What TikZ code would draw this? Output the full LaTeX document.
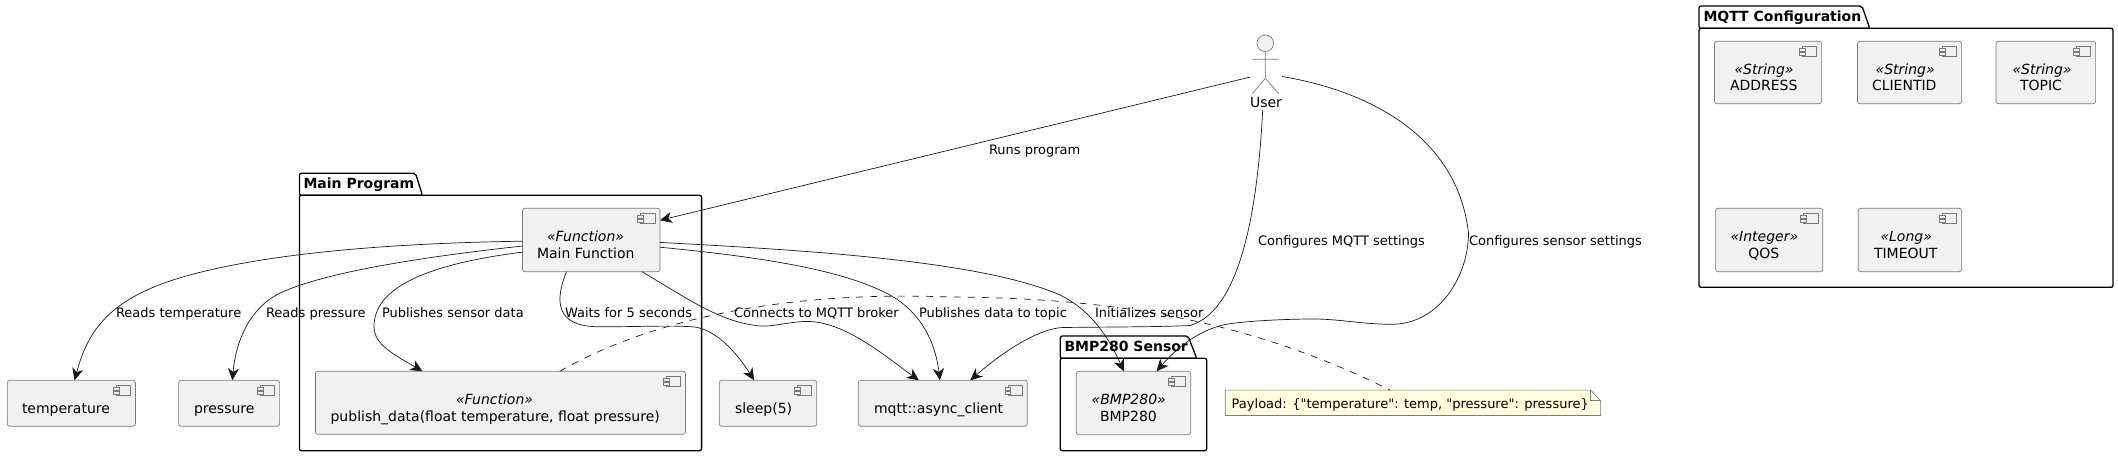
\documentclass[tikz,border=0pt]{standalone}
\usepackage{fontspec}
\setmainfont{DejaVu Sans}
\newfontfamily\plainfont{DejaVu Sans}
\usetikzlibrary{arrows.meta}
\definecolor{compfill}{HTML}{F1F1F1}
\definecolor{compline}{HTML}{7A7A7A}
\definecolor{notefill}{HTML}{FEFFDD}
\definecolor{wire}{HTML}{181818}
\newcommand{\CompBox}[5]{%
  \pgfmathsetmacro{\cbx}{(#2+#4)/2}\pgfmathsetmacro{\cby}{(#3+#5)/2}%
  \pgfmathsetmacro{\cbw}{#4-#2}\pgfmathsetmacro{\cbh}{#5-#3}%
  \node[compbox,minimum width=\cbw pt,minimum height=\cbh pt] (#1) at (\cbx,\cby) {};
  \begin{scope}[shift={(#1.north east)}]
    \draw[iconline,fill=compfill] (-19.4,5.4) rectangle ++(14.4,10);
    \draw[iconline,fill=compfill] (-22.4,7.4) rectangle ++(5.8,2.6);
    \draw[iconline,fill=compfill] (-22.4,11.2) rectangle ++(5.8,2.6);
  \end{scope}%
}
\newcommand{\Pkg}[8]{% name x1 ytop tabtop-right tab-bottom-right ybody x2 y2
  \draw[pkgline] (#2,#6) -- (#2,#3) -- (#4,#3) -- (#5,#6) -- cycle;
  \draw[pkgline] (#2,#6) -- (#7,#6) -- (#7,#8) -- (#2,#8) -- cycle;
}
\tikzset{
  x=1pt,y=-1pt,
  compbox/.style={draw=compline,fill=compfill,rounded corners=2.5pt,line width=0.7pt,inner sep=0pt,outer sep=0pt,shape=rectangle},
  iconline/.style={draw=compline,line width=0.6pt,rounded corners=0pt,x=1pt,y=-1pt},
  pkgline/.style={draw=black,line width=1.3pt,rounded corners=2pt,line join=round},
  txt/.style={anchor=base west,inner sep=0pt,outer sep=0pt,font=\fontsize{14}{16}\selectfont,text=black},
  lbl/.style={txt,font=\fontsize{13}{15}\selectfont},
  ster/.style={txt,font=\fontsize{14}{16}\selectfont\itshape},
  ttl/.style={txt,font=\fontsize{14}{16}\selectfont\bfseries},
  conn/.style={draw=wire,line width=0.7pt,-{Stealth[inset=3.6pt,length=12pt,width=11pt]}},
  dashconn/.style={draw=wire,line width=0.7pt,dash pattern=on 7pt off 7pt},
  actorline/.style={draw=compline,line width=0.7pt},
}
\begin{document}
\begin{tikzpicture}
\useasboundingbox (0,0) rectangle (2118,456);
% packages
\Pkg{pm}{299.4}{173.3}{415.5}{422.4}{195.3}{701.6}{450.7}
\Pkg{pb}{1060.3}{336}{1188}{1196.7}{358.3}{1206.7}{450.7}
\Pkg{pq}{1699}{6}{1862}{1869.7}{28.3}{2113}{287.3}
\node[ttl] (tpm) at (303.5,188) {Main Program};
\node[ttl] (tpb) at (1064.5,351) {BMP280 Sensor};
\node[ttl] (tpq) at (1703.5,21) {MQTT Configuration};
% components
\CompBox{main}{522.5}{208.3}{660}{271.7}
\CompBox{publish}{315.4}{371.3}{685.5}{434.3}
\CompBox{temp}{7.3}{380.3}{135.4}{426.3}
\CompBox{press}{178.6}{380.3}{279.6}{426.3}
\CompBox{sleep}{719.3}{380.3}{816.7}{426.3}
\CompBox{mqtt}{858.3}{380.3}{1027.3}{426.3}
\CompBox{bmp}{1076.3}{371.3}{1190.7}{434.7}
\CompBox{addr}{1714.4}{41.3}{1821.6}{103.7}
\CompBox{client}{1857.5}{41.3}{1961.6}{103.7}
\CompBox{topic}{1996}{41.3}{2095.6}{103.7}
\CompBox{qos}{1715.6}{208.3}{1822.8}{271.7}
\CompBox{tout}{1858.3}{208.3}{1961.6}{271.7}
% component texts
\node[ster] (s1) at (547,241) {«Function»};
\node[txt] (n1) at (537,258) {Main Function};
\node[ster] (s2) at (456,404.3) {«Function»};
\node[txt] (n2) at (330.6,421) {publish\_data(float temperature, float pressure)};
\node[txt] (n3) at (22,413) {temperature};
\node[txt] (n4) at (194,413) {pressure};
\node[txt] (n5) at (735,413) {sleep(5)};
\node[txt] (n6) at (874,413) {mqtt::async\_client};
\node[ster] (s7) at (1091.7,404) {«BMP280»};
\node[txt] (n7) at (1100,421) {BMP280};
\node[ster] (s8) at (1734.5,74) {«String»};
\node[txt] (n8) at (1730,90) {ADDRESS};
\node[ster] (s9) at (1875.6,74) {«String»};
\node[txt] (n9) at (1872,90) {CLIENTID};
\node[ster] (s10) at (2012.5,74) {«String»};
\node[txt] (n10) at (2020,90) {TOPIC};
\node[ster] (s11) at (1730.5,241) {«Integer»};
\node[txt] (n11) at (1748.3,258) {QOS};
\node[ster] (s12) at (1880.5,241) {«Long»};
\node[txt] (n12) at (1874,258) {TIMEOUT};
% actor
\node[inner sep=0pt,outer sep=0pt,minimum width=32pt,minimum height=75pt] (user) at (1266,72.5) {};
\draw[actorline,fill=compfill] (1265.3,43.3) circle[radius=8.3];
\draw[actorline] (1265.3,51.7) -- (1265.3,78.3) (1252.3,59.3) -- (1278.7,59.3) (1252.3,93.7) -- (1265.3,78.3) -- (1278.7,93.7);
\node[txt] (userlbl) at (1250,107) {User};
% note
\node[inner sep=0pt,outer sep=0pt,minimum width=375.4pt,minimum height=25.4pt] (note) at (1413,402.8) {};
\draw[draw=compline,fill=notefill,line width=0.7pt] (note.south west) -- (note.north west) -- ([xshift=-10pt]note.north east) -- ([yshift=-10.7pt]note.north east) -- (note.south east) -- cycle;
\draw[draw=compline,line width=0.7pt] ([xshift=-10pt]note.north east) -- ([xshift=-10pt,yshift=-10.7pt]note.north east) -- ([yshift=-10.7pt]note.north east);
\node[txt,font=\fontsize{13}{15}\plainfont] (notetxt) at (1231.7,408) {Payload: \{"temperature": temp, "pressure": pressure\}};
% connectors
\draw[conn] (user.196.7) -- (main.16.2);
\draw[conn] (main.181.4) .. controls (400,243) and (270,252) .. (183.7,276.7) .. controls (110,298) and (88,330) .. (temp.82.5);
\draw[conn] (main.185.2) .. controls (440,255) and (330,270) .. (280,293) .. controls (250,308) and (236,340) .. (press.82.8);
\draw[conn] (main.190.5) .. controls (420,265) and (374,290) .. (374,326.7) .. controls (374,345) and (395,355) .. (publish.158.6);
\draw[conn] (main.232.6) .. controls (555,300) and (555,326) .. (597,326.7) .. controls (640,327) and (670,325) .. (695,327) .. controls (715,330) and (735,350) .. (sleep.121.3);
\draw[conn] (main.328.6) .. controls (690,300) and (720,322) .. (760,326) .. controls (775,327) and (795,320) .. (813,321.7) .. controls (850,325) and (890,360) .. (mqtt.136.8);
\draw[conn] (main.-6.06) .. controls (750,256) and (840,268) .. (890,295) .. controls (920,312) and (935,340) .. (mqtt.97);
\draw[conn] (main.-2.25) .. controls (800,250) and (980,260) .. (1060,295) .. controls (1095,312) and (1112,345) .. (bmp.107.8);
\draw[conn] (user.265.9) .. controls (1258,200) and (1243,310) .. (1190,325.5) .. controls (1160,327) and (1100,327) .. (1063.3,327.5) .. controls (1040,328) and (1005,350) .. (mqtt.40.2);
\draw[conn] (user.346.6) .. controls (1375,92) and (1458,140) .. (1468.5,233) .. controls (1468.5,275) and (1440,325) .. (1390,324.3) .. controls (1360,324) and (1340,319) .. (1313,319) .. controls (1285,319) and (1250,321) .. (1233,323.3) .. controls (1200,327) and (1175,350) .. (bmp.54.6);
\draw[dashconn] (publish.28.7) .. controls (640,325) and (770,290) .. (950,297) .. controls (1080,298) and (1230,310) .. (note.151);
% connector labels
\node[lbl] (l0) at (989,154.5) {Runs program};
\node[lbl] (l1) at (116,317) {Reads temperature};
\node[lbl] (l2) at (266,317) {Reads pressure};
\node[lbl] (l3) at (382,317) {Publishes sensor data};
\node[lbl] (l4) at (565,317) {Waits for 5 seconds};
\node[lbl] (l5) at (734,317) {Connects to MQTT broker};
\node[lbl] (l6) at (919,317) {Publishes data to topic};
\node[lbl] (l7) at (1095,317) {Initializes sensor};
\node[lbl] (l8) at (1258,245.5) {Configures MQTT settings};
\node[lbl] (l9) at (1469,245.5) {Configures sensor settings};
\end{tikzpicture}
\end{document}
